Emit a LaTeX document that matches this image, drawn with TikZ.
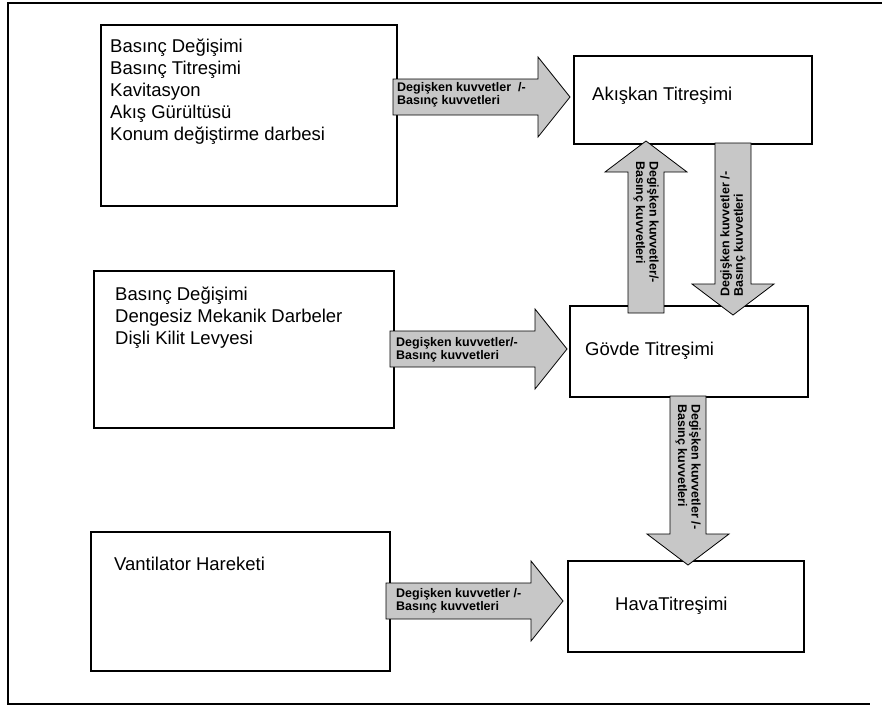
\documentclass[tikz,border=0pt]{standalone}
\usepackage{fontspec}
\setmainfont{Liberation Sans}
\newcommand{\blockR}[4]{% name, tail x, tip x, centre y
  \coordinate (#1-tail) at (#2,#4);
  \coordinate (#1-tip) at (#3,#4);
  \draw[barrow] (#2,#4-18) -- (#3-32,#4-18) -- (#3-32,#4-40) -- (#1-tip)
    -- (#3-32,#4+40) -- (#3-32,#4+18) -- (#2,#4+18) -- cycle;}
\newcommand{\blockDown}[4]{% name, centre x, tail y, tip y (tip below)
  \coordinate (#1-tail) at (#2,#3);
  \coordinate (#1-tip) at (#2,#4);
  \draw[barrow] (#2-18,#3) -- (#2-18,#4-31) -- (#2-41,#4-31) -- (#1-tip)
    -- (#2+41,#4-31) -- (#2+18,#4-31) -- (#2+18,#3) -- cycle;}
\newcommand{\blockUp}[4]{% name, centre x, tail y, tip y (tip above)
  \coordinate (#1-tail) at (#2,#3);
  \coordinate (#1-tip) at (#2,#4);
  \draw[barrow] (#2-18,#3) -- (#2-18,#4+31) -- (#2-41,#4+31) -- (#1-tip)
    -- (#2+41,#4+31) -- (#2+18,#4+31) -- (#2+18,#3) -- cycle;}
\begin{document}
\begin{tikzpicture}[x=1pt,y=-1pt,
  box/.style={draw=black, line width=2.4pt, inner sep=0pt, anchor=north west},
  barrow/.style={draw=black, line width=0.8pt, fill=black!22, line join=miter},
  boxtext/.style={font=\fontsize{18.5}{22}\selectfont, align=left, inner sep=0pt},
  arrtext/.style={font=\fontsize{12.5}{13.5}\selectfont\bfseries, align=left, inner sep=0pt},
  frame/.style={line width=1.2pt}]
\useasboundingbox (0,0) rectangle (882,713);
% outer frame
\draw[frame] (882,3) -- (8,3) -- (8,704) -- (870,704);
% boxes
\node[box, minimum width=296pt, minimum height=181pt] (b1) at (100,24) {};
\node[box, minimum width=300pt, minimum height=157pt] (b2) at (93,270) {};
\node[box, minimum width=299pt, minimum height=139pt] (b3) at (90,531) {};
\node[box, minimum width=238pt, minimum height=88pt] (ak) at (573,55) {};
\node[box, minimum width=238pt, minimum height=91pt] (gv) at (569,305) {};
\node[box, minimum width=236pt, minimum height=91pt] (hv) at (567,560) {};
% block arrows
\blockR{a1}{393}{570}{97}
\blockR{a2}{390}{567}{349}
\blockR{a3}{386}{563}{601}
\blockUp{up}{646}{313}{141}
\blockDown{d1}{733}{143}{315}
\blockDown{d2}{688}{396}{565}
% box texts
\node[boxtext, anchor=north west] (t1) at (110,38.5) {Basınç Değişimi\\Basınç Titreşimi\\Kavitasyon\\Akış Gürültüsü\\Konum değiştirme darbesi};
\node[boxtext, anchor=north west] (t2) at (115,286.5) {Basınç Değişimi\\Dengesiz Mekanik Darbeler\\Dişli Kilit Levyesi};
\node[boxtext, anchor=north west] (t3) at (114,556.5) {Vantilator Hareketi};
\node[boxtext, anchor=west] (tak) at (592,96) {Akışkan Titreşimi};
\node[boxtext, anchor=west] (tgv) at (585,351) {Gövde Titreşimi};
\node[boxtext, anchor=west] (thv) at (615,606) {HavaTitreşimi};
% arrow texts
\node[arrtext, anchor=west] (ta1) at (397,95) {Degişken kuvvetler\ \ /-\\Basınç kuvvetleri};
\node[arrtext, anchor=west] (ta2) at (396,350) {Degişken kuvvetler/-\\Basınç kuvvetleri};
\node[arrtext, anchor=west] (ta3) at (396,601) {Degişken kuvvetler /-\\Basınç kuvvetleri};
\node[arrtext, anchor=west, rotate=-90] (tup) at (646,161) {Degişken kuvvetler/-\\Basınç kuvvetleri};
\node[arrtext, anchor=west, rotate=90] (td1) at (733,297) {Degişken kuvvetler /-\\Basınç kuvvetleri};
\node[arrtext, anchor=west, rotate=-90] (td2) at (688,404) {Degişken kuvvetler /-\\Basınç kuvvetleri};
\end{tikzpicture}
\end{document}
